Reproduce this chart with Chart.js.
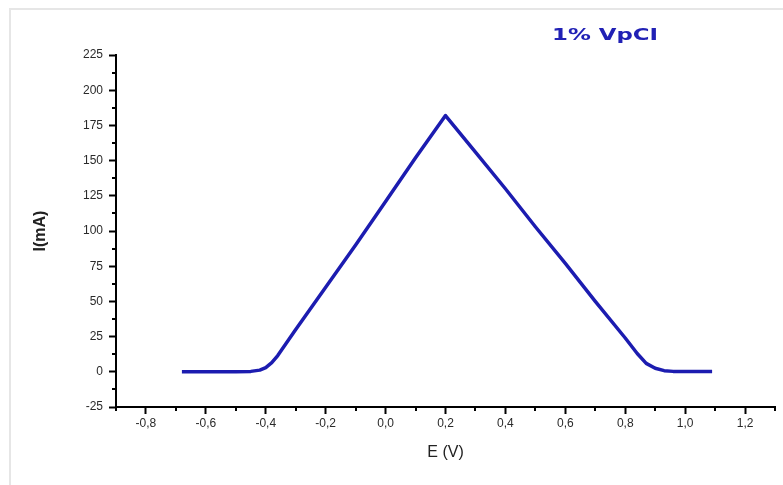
<!DOCTYPE html>
<html>
<head>
<meta charset="utf-8">
<script src="https://cdn.jsdelivr.net/npm/chart.js@4/dist/chart.umd.min.js"></script>
<style>
  html, body { margin: 0; padding: 0; background: #ffffff; }
  #wrap { position: relative; width: 783px; height: 485px; overflow: hidden; }
  #frame { position: absolute; left: 9px; top: 8px; width: 800px; height: 500px; border-left: 2px solid #e6e6e6; border-top: 2px solid #e6e6e6; pointer-events: none; }
  canvas { position: absolute; left: 0; top: 0; }
</style>
</head>
<body>
<div id="wrap">
<canvas id="c" width="783" height="485"></canvas>
<div id="frame"></div>
</div>
<script>
// ---- data ----
const potentialV = [-0.68, -0.6, -0.5, -0.45, -0.42, -0.40, -0.38, -0.36, -0.30, -0.20, -0.10, 0.00, 0.10, 0.20, 0.30, 0.40, 0.50, 0.60, 0.70, 0.80, 0.84, 0.87, 0.90, 0.93, 0.96, 1.00, 1.09];
const currentMA = [0, 0, 0, 0.3, 1.2, 3, 6.5, 11.5, 30, 60, 90, 121, 152, 182, 156, 130, 103, 77, 50, 24, 13, 6, 2.5, 0.8, 0.3, 0.2, 0.2];
const seriesLabel = "1% VpCI";
const xMajorTicks = [-0.8, -0.6, -0.4, -0.2, 0.0, 0.2, 0.4, 0.6, 0.8, 1.0, 1.2];
const xMinorTicks = [-0.9, -0.7, -0.5, -0.3, -0.1, 0.1, 0.3, 0.5, 0.7, 0.9, 1.1, 1.3];
const yMajorTicks = [-25, 0, 25, 50, 75, 100, 125, 150, 175, 200, 225];
const yMinorTicks = [-12.5, 12.5, 37.5, 62.5, 87.5, 112.5, 137.5, 162.5, 187.5, 212.5];

const points = potentialV.map((e, i) => ({ x: e, y: currentMA[i] }));
const lineColor = '#1c1cb0';

const minorTickPlugin = {
  id: 'minorTicks',
  afterDraw(chart) {
    const ctx = chart.ctx;
    const xs = chart.scales.x, ys = chart.scales.y;
    ctx.save();
    ctx.strokeStyle = '#000';
    ctx.lineWidth = 2;
    ctx.beginPath();
    xMinorTicks.forEach(v => {
      const px = Math.round(xs.getPixelForValue(v));
      ctx.moveTo(px, xs.top); ctx.lineTo(px, xs.top + 4);
    });
    yMinorTicks.forEach(v => {
      const py = Math.round(ys.getPixelForValue(v));
      ctx.moveTo(ys.right, py); ctx.lineTo(ys.right - 4, py);
    });
    ctx.stroke();
    // series label, horizontally stretched like the reference
    ctx.fillStyle = '#2121b5';
    ctx.font = 'bold 16px "DejaVu Sans", Verdana, sans-serif';
    ctx.textAlign = 'left';
    ctx.textBaseline = 'middle';
    const w = ctx.measureText(seriesLabel).width;
    const targetW = 106;
    ctx.translate(552, 36);
    ctx.scale(targetW / w, 1);
    ctx.fillText(seriesLabel, 0, 0);
    ctx.restore();
  }
};

new Chart(document.getElementById('c'), {
  type: 'scatter',
  data: {
    datasets: [{
      label: seriesLabel,
      data: points,
      showLine: true,
      borderColor: lineColor,
      backgroundColor: lineColor,
      borderWidth: 3.5,
      borderJoinStyle: 'round',
      pointRadius: 0,
      tension: 0
    }]
  },
  options: {
    responsive: false,
    animation: false,
    devicePixelRatio: 1,
    layout: { padding: { left: 0, top: 55, right: 8, bottom: 0 } },
    plugins: { legend: { display: false }, tooltip: { enabled: false } },
    scales: {
      x: {
        type: 'linear',
        min: -0.9, max: 1.3,
        afterBuildTicks: s => { s.ticks = xMajorTicks.map(v => ({ value: v })); },
        afterFit: s => { s.height = 78; },
        border: { display: true, color: '#000', width: 2 },
        grid: { drawOnChartArea: false, drawTicks: true, tickLength: 7, tickColor: '#000', tickWidth: 2 },
        ticks: {
          color: '#2a2a2a',
          font: { family: '"Liberation Sans", Arial, sans-serif', size: 12 },
          padding: 2,
          maxRotation: 0,
          callback: v => v.toFixed(1).replace('.', ',')
        },
        title: {
          display: true, text: 'E (V)', color: '#222',
          font: { family: '"Liberation Sans", Arial, sans-serif', size: 16 },
          padding: { top: 0, bottom: 23 }
        }
      },
      y: {
        type: 'linear',
        min: -25, max: 225,
        afterBuildTicks: s => { s.ticks = yMajorTicks.map(v => ({ value: v })); },
        afterFit: s => { s.width = 116; },
        border: { display: true, color: '#000', width: 2 },
        grid: { drawOnChartArea: false, drawTicks: true, tickLength: 7, tickColor: '#000', tickWidth: 2 },
        ticks: {
          color: '#2a2a2a',
          font: { family: '"Liberation Sans", Arial, sans-serif', size: 12 },
          padding: 6,
          callback: v => String(v)
        },
        title: {
          display: true, text: 'I(mA)', color: '#222',
          font: { family: '"Liberation Sans", Arial, sans-serif', size: 16, weight: 'bold' },
          padding: { top: 31, bottom: 0 }
        }
      }
    }
  },
  plugins: [minorTickPlugin]
});
</script>
</body>
</html>
